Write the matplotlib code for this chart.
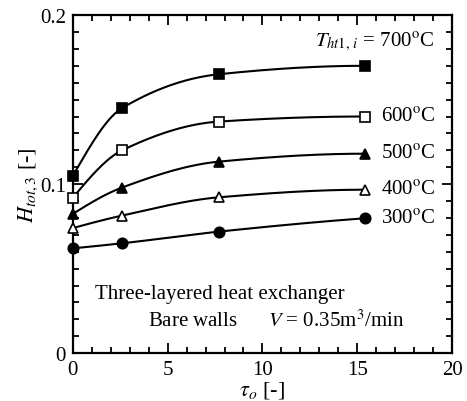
import numpy as np
import matplotlib
matplotlib.use("Agg")
import matplotlib.pyplot as plt
from matplotlib.ticker import MultipleLocator

plt.rcParams['font.family'] = ['Liberation Serif', 'DejaVu Serif']
plt.rcParams['mathtext.fontset'] = 'stix'

# data
tau = [0.0, 2.6, 7.7, 15.4]
h_700 = [0.105, 0.145, 0.165, 0.170]
h_600 = [0.092, 0.120, 0.137, 0.140]
h_500 = [0.0824, 0.098, 0.1133, 0.118]
h_400 = [0.074, 0.0814, 0.0922, 0.0967]
h_300 = [0.062, 0.065, 0.0719, 0.0798]
labels = ['700', '600', '500', '400', '300']
yticks = [0, 0.1, 0.2]
ytick_labels = ['0', '0.1', '0.2']


def pchip(x, y, xs):
    # monotone cubic curve through the points (Fritsch-Carlson)
    x = np.asarray(x, float)
    y = np.asarray(y, float)
    h = np.diff(x)
    d = np.diff(y) / h
    m = np.zeros_like(y)
    for k in range(1, len(x) - 1):
        if d[k - 1] * d[k] > 0:
            w1 = 2 * h[k] + h[k - 1]
            w2 = h[k] + 2 * h[k - 1]
            m[k] = (w1 + w2) / (w1 / d[k - 1] + w2 / d[k])
    m[0] = ((2 * h[0] + h[1]) * d[0] - h[0] * d[1]) / (h[0] + h[1])
    if np.sign(m[0]) != np.sign(d[0]):
        m[0] = 0
    elif np.sign(d[0]) != np.sign(d[1]) and abs(m[0]) > abs(3 * d[0]):
        m[0] = 3 * d[0]
    m[-1] = ((2 * h[-1] + h[-2]) * d[-1] - h[-1] * d[-2]) / (h[-1] + h[-2])
    if np.sign(m[-1]) != np.sign(d[-1]):
        m[-1] = 0
    elif np.sign(d[-1]) != np.sign(d[-2]) and abs(m[-1]) > abs(3 * d[-1]):
        m[-1] = 3 * d[-1]
    idx = np.clip(np.searchsorted(x, xs) - 1, 0, len(x) - 2)
    t = (xs - x[idx]) / h[idx]
    h00 = 2 * t**3 - 3 * t**2 + 1
    h10 = t**3 - 2 * t**2 + t
    h01 = -2 * t**3 + 3 * t**2
    h11 = t**3 - t**2
    return h00 * y[idx] + h10 * h[idx] * m[idx] + h01 * y[idx + 1] + h11 * h[idx] * m[idx + 1]


fig = plt.figure(figsize=(4.67, 4.02), dpi=100)
ax = fig.add_axes([0.156, 0.119, 0.812, 0.841])

series = [h_700, h_600, h_500, h_400, h_300]
markers = [('s', 'black'), ('s', 'white'), ('^', 'black'), ('^', 'white'), ('o', 'black')]
sizes = [6.5, 6.5, 7.5, 7.5, 7.5]
xs = np.linspace(tau[0], tau[-1], 300)
for vals, (mk, fc), ms, lab in zip(series, markers, sizes, labels):
    ax.plot(xs, pchip(tau, vals, xs), color='black', lw=1.5, zorder=2)
    ax.plot(tau, vals, linestyle='none', marker=mk, ms=ms, mfc=fc, mec='black',
            mew=1.2, clip_on=False, zorder=3)
    if lab != '700':
        ax.text(16.25, vals[-1], lab + r'$^{\rm o}$C', fontsize=15, va='center', ha='left')

ax.text(19.1, 0.185, r'$T_{ht1,\,i}$ = 700$^{\rm o}$C', fontsize=15, va='center', ha='right')
ax.text(1.15, 0.0355, 'Three-layered heat exchanger', fontsize=15, va='center')
ax.text(3.95, 0.0195, r'Bare walls      $V$ = 0.35m$^3$/min', fontsize=15, va='center')

ax.set_xlim(0, 20)
ax.set_ylim(0, 0.2)
ax.xaxis.set_major_locator(MultipleLocator(5))
ax.xaxis.set_minor_locator(MultipleLocator(1))
ax.set_yticks(yticks, ytick_labels)
ax.yaxis.set_minor_locator(MultipleLocator(0.01))
ax.tick_params(which='both', direction='in', top=True, right=True, labelsize=15, width=1.3)
ax.tick_params(which='major', length=7, pad=5)
ax.tick_params(which='minor', length=4)
for s in ax.spines.values():
    s.set_linewidth(1.6)

ax.set_xlabel(r'$\tau_o$ [-]', fontsize=16, labelpad=0)
ax.set_ylabel(r'$H_{tot,3}$ [-]', fontsize=16, labelpad=0)

fig.savefig('out.png', dpi=100)
